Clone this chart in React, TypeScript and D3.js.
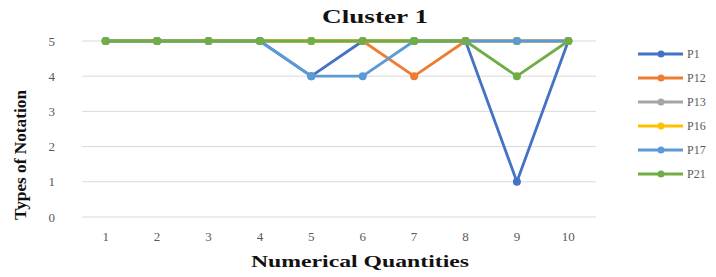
import React, { useEffect, useRef } from 'react';
import * as d3 from 'd3';

const categories = ['1', '2', '3', '4', '5', '6', '7', '8', '9', '10'];
const seriesNames = ['P1', 'P12', 'P13', 'P16', 'P17', 'P21'];
const colors = ['#4472C4', '#ED7D31', '#A5A5A5', '#FFC000', '#5B9BD5', '#70AD47'];
const p1 = [5, 5, 5, 5, 4, 5, 5, 5, 1, 5];
const p12 = [5, 5, 5, 5, 5, 5, 4, 5, 5, 5];
const p13 = [5, 5, 5, 5, 5, 5, 5, 5, 5, 5];
const p16 = [5, 5, 5, 5, 5, 5, 5, 5, 5, 5];
const p17 = [5, 5, 5, 5, 4, 4, 5, 5, 5, 5];
const p21 = [5, 5, 5, 5, 5, 5, 5, 5, 4, 5];
const yTicks = [0, 1, 2, 3, 4, 5];

const App = () => {
  const ref = useRef<SVGSVGElement>(null);

  useEffect(() => {
    const svg = d3.select(ref.current);
    svg.selectAll('*').remove();

    const width = 716;
    const height = 277;
    const margin = { top: 41, right: 120, bottom: 60, left: 82 };
    const font = '"Liberation Serif", "DejaVu Serif", serif';

    const x = d3.scaleBand().domain(categories).range([margin.left, width - margin.right]);
    const y = d3.scaleLinear().domain([0, 5]).range([height - margin.bottom, margin.top]);
    const cx = (i: number) => (x(categories[i]) as number) + x.bandwidth() / 2 - 2;

    // Gridlines
    svg.append('g')
      .selectAll('line')
      .data(yTicks)
      .enter()
      .append('line')
      .attr('x1', margin.left)
      .attr('x2', width - margin.right)
      .attr('y1', d => y(d))
      .attr('y2', d => y(d))
      .attr('stroke', '#d9d9d9')
      .attr('stroke-width', 1);

    // Y tick labels
    svg.append('g')
      .selectAll('text')
      .data(yTicks)
      .enter()
      .append('text')
      .attr('x', 55)
      .attr('y', d => y(d))
      .attr('dy', '0.35em')
      .attr('text-anchor', 'end')
      .attr('fill', '#595959')
      .style('font-family', font)
      .style('font-size', '13px')
      .text(d => d);

    // X tick labels
    svg.append('g')
      .selectAll('text')
      .data(categories)
      .enter()
      .append('text')
      .attr('x', (d, i) => cx(i))
      .attr('y', height - margin.bottom + 24)
      .attr('text-anchor', 'middle')
      .attr('fill', '#595959')
      .style('font-family', font)
      .style('font-size', '13px')
      .text(d => d);

    const allSeries = [p1, p12, p13, p16, p17, p21];
    const line = d3.line<number>()
      .x((d, i) => cx(i))
      .y(d => y(d));

    allSeries.forEach((values, si) => {
      svg.append('path')
        .datum(values)
        .attr('fill', 'none')
        .attr('stroke', colors[si])
        .attr('stroke-width', 2.8)
        .attr('stroke-linejoin', 'round')
        .attr('d', line);
      svg.append('g')
        .selectAll('circle')
        .data(values)
        .enter()
        .append('circle')
        .attr('cx', (d, i) => cx(i))
        .attr('cy', d => y(d))
        .attr('r', 4)
        .attr('fill', colors[si]);
    });

    // Title
    svg.append('text')
      .attr('x', 375)
      .attr('y', 23)
      .attr('text-anchor', 'middle')
      .attr('fill', '#111')
      .attr('textLength', 106)
      .attr('lengthAdjust', 'spacingAndGlyphs')
      .style('font-family', font)
      .style('font-weight', 'bold')
      .style('font-size', '18px')
      .text('Cluster 1');

    // Axis titles
    svg.append('text')
      .attr('x', 360)
      .attr('y', 267)
      .attr('text-anchor', 'middle')
      .attr('fill', '#111')
      .attr('textLength', 218)
      .attr('lengthAdjust', 'spacingAndGlyphs')
      .style('font-family', font)
      .style('font-weight', 'bold')
      .style('font-size', '17px')
      .text('Numerical Quantities');

    svg.append('text')
      .attr('transform', 'rotate(-90)')
      .attr('x', -155)
      .attr('y', 26)
      .attr('text-anchor', 'middle')
      .attr('fill', '#111')
      .attr('textLength', 130)
      .attr('lengthAdjust', 'spacingAndGlyphs')
      .style('font-family', font)
      .style('font-weight', 'bold')
      .style('font-size', '17px')
      .text('Types of Notation');

    // Legend
    const legend = svg.append('g')
      .selectAll('g')
      .data(seriesNames)
      .enter()
      .append('g')
      .attr('transform', (d, i) => `translate(638, ${54 + i * 24})`);
    legend.append('line')
      .attr('x1', 0)
      .attr('x2', 45)
      .attr('stroke', (d, i) => colors[i])
      .attr('stroke-width', 2.8);
    legend.append('circle')
      .attr('cx', 23)
      .attr('r', 3.5)
      .attr('fill', (d, i) => colors[i]);
    legend.append('text')
      .attr('x', 49)
      .attr('dy', '0.35em')
      .attr('fill', '#595959')
      .style('font-family', font)
      .style('font-size', '12px')
      .text(d => d);
  }, []);

  return <svg ref={ref} width={716} height={277} style={{ display: 'block', position: 'absolute', left: 0, top: 0, background: '#fff' }} />;
};

export default App;
